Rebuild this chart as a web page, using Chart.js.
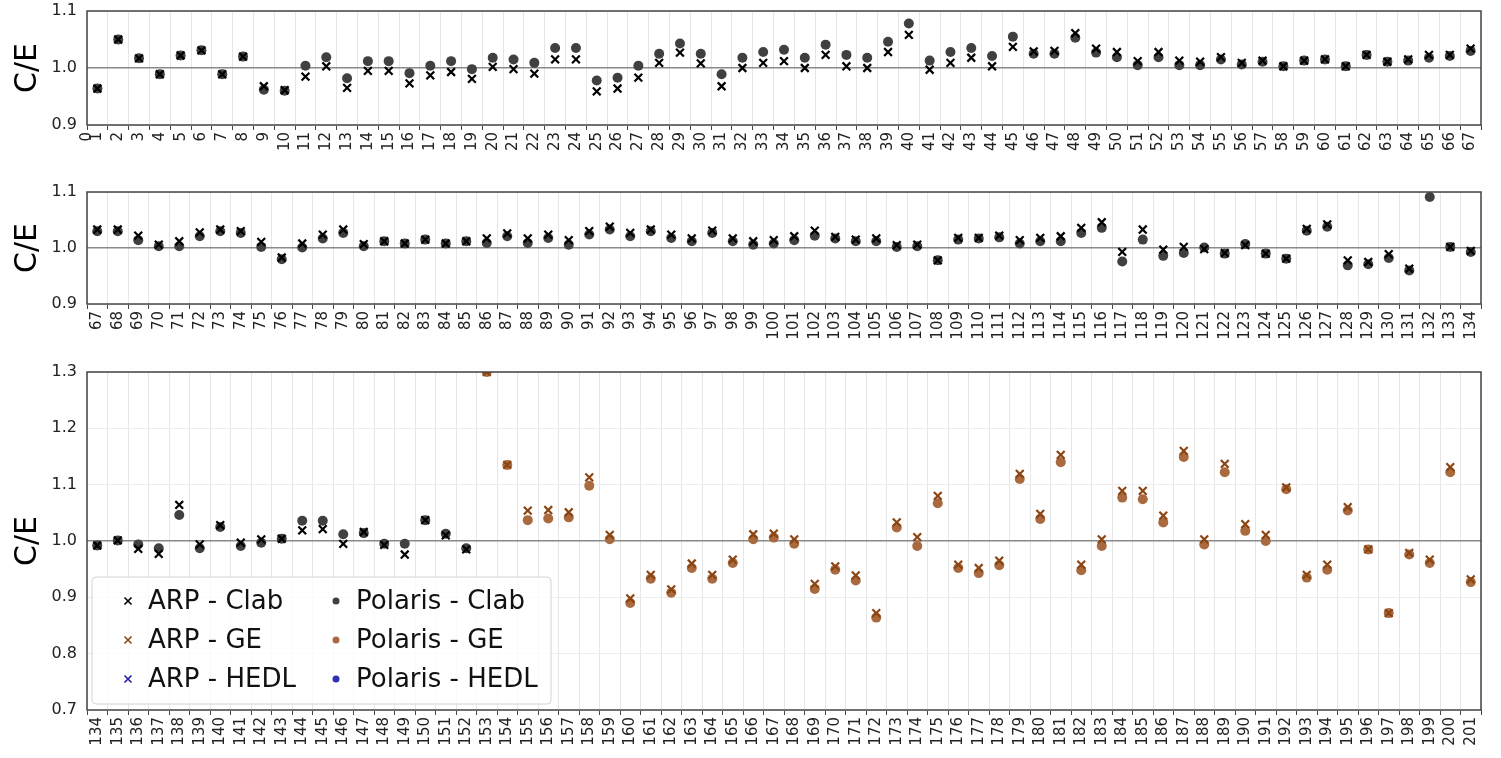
<!DOCTYPE html>
<html>
<head>
<meta charset="utf-8">
<script src="https://cdn.jsdelivr.net/npm/chart.js@4.4.1/dist/chart.umd.min.js"></script>
<style>
  body { margin: 0; background: #fff; width: 1501px; height: 758px; overflow: hidden; position: relative; }
  canvas { position: absolute; left: 0; }
</style>
</head>
<body>
<canvas id="panel1" width="1501" height="169" style="top:-9px"></canvas>
<canvas id="panel2" width="1501" height="185" style="top:165px"></canvas>
<canvas id="panel3" width="1501" height="406" style="top:352px"></canvas>
<script>
// C/E values, one entry per case number
// panel 1: cases 1..67
const arpClab1 = [0.964, 1.050, 1.017, 0.989, 1.022, 1.031, 0.989, 1.020, 0.968, 0.961,
  0.985, 1.003, 0.965, 0.995, 0.995, 0.973, 0.987, 0.993, 0.981, 1.002,
  0.998, 0.990, 1.015, 1.015, 0.959, 0.964, 0.983, 1.009, 1.027, 1.008,
  0.968, 1.000, 1.009, 1.012, 1.000, 1.023, 1.003, 1.000, 1.028, 1.058,
  0.997, 1.009, 1.018, 1.003, 1.037, 1.029, 1.030, 1.061, 1.034, 1.028,
  1.012, 1.028, 1.013, 1.011, 1.019, 1.009, 1.013, 1.003, 1.013, 1.015,
  1.003, 1.023, 1.011, 1.015, 1.023, 1.023, 1.034];
const polClab1 = [0.964, 1.050, 1.017, 0.989, 1.022, 1.031, 0.989, 1.020, 0.962, 0.960,
  1.004, 1.019, 0.982, 1.012, 1.012, 0.991, 1.004, 1.012, 0.998, 1.018,
  1.015, 1.009, 1.035, 1.035, 0.978, 0.983, 1.004, 1.025, 1.043, 1.025,
  0.989, 1.018, 1.028, 1.032, 1.018, 1.041, 1.023, 1.018, 1.046, 1.078,
  1.013, 1.028, 1.035, 1.021, 1.055, 1.025, 1.025, 1.053, 1.027, 1.019,
  1.005, 1.019, 1.005, 1.005, 1.015, 1.006, 1.011, 1.003, 1.013, 1.015,
  1.003, 1.023, 1.011, 1.013, 1.018, 1.021, 1.030];

// panel 2: cases 67..134
const arpClab2 = [1.033, 1.033, 1.022, 1.006, 1.012, 1.028, 1.033, 1.030, 1.011, 0.983,
  1.008, 1.024, 1.033, 1.007, 1.012, 1.008, 1.015, 1.008, 1.012, 1.017,
  1.026, 1.017, 1.024, 1.014, 1.030, 1.038, 1.027, 1.033, 1.024, 1.017,
  1.031, 1.017, 1.012, 1.014, 1.021, 1.031, 1.020, 1.015, 1.017, 1.005,
  1.006, 0.978, 1.018, 1.018, 1.022, 1.014, 1.018, 1.021, 1.036, 1.046,
  0.993, 1.033, 0.997, 1.002, 0.998, 0.991, 1.005, 0.990, 0.981, 1.034,
  1.042, 0.978, 0.975, 0.989, 0.963, null, 1.002, 0.995];
const polClab2 = [1.030, 1.030, 1.014, 1.003, 1.003, 1.021, 1.030, 1.027, 1.002, 0.980,
  1.001, 1.017, 1.027, 1.003, 1.012, 1.008, 1.015, 1.008, 1.012, 1.009,
  1.021, 1.009, 1.018, 1.006, 1.024, 1.033, 1.021, 1.030, 1.018, 1.012,
  1.027, 1.012, 1.006, 1.008, 1.014, 1.022, 1.017, 1.012, 1.012, 1.002,
  1.003, 0.978, 1.015, 1.017, 1.019, 1.008, 1.012, 1.012, 1.027, 1.036,
  0.976, 1.015, 0.986, 0.991, 1.001, 0.990, 1.007, 0.990, 0.981, 1.031,
  1.038, 0.969, 0.971, 0.982, 0.960, 1.091, 1.002, 0.993];

// panel 3: Clab cases 134..152, GE cases 153..201
const arpClab3 = [0.992, 1.001, 0.986, 0.977, 1.064, 0.994, 1.028, 0.997, 1.003, 1.004,
  1.019, 1.021, 0.995, 1.016, 0.993, 0.976, 1.037, 1.010, 0.985];
const polClab3 = [0.992, 1.001, 0.994, 0.987, 1.046, 0.987, 1.025, 0.991, 0.997, 1.004,
  1.036, 1.036, 1.012, 1.014, 0.995, 0.995, 1.037, 1.013, 0.987];
const arpGE3 = [1.300, 1.135, 1.054, 1.055, 1.051, 1.113, 1.011, 0.898, 0.940, 0.914,
  0.960, 0.940, 0.967, 1.012, 1.013, 1.003, 0.924, 0.955, 0.939, 0.872,
  1.033, 1.007, 1.080, 0.958, 0.952, 0.965, 1.119, 1.048, 1.153, 0.958,
  1.003, 1.089, 1.089, 1.045, 1.160, 1.003, 1.137, 1.030, 1.011, 1.095,
  0.940, 0.958, 1.060, 0.985, 0.872, 0.979, 0.967, 1.131, 0.932];
const polGE3 = [1.300, 1.135, 1.037, 1.040, 1.042, 1.098, 1.003, 0.890, 0.933, 0.908,
  0.952, 0.933, 0.961, 1.003, 1.006, 0.995, 0.915, 0.949, 0.930, 0.864,
  1.024, 0.991, 1.067, 0.952, 0.943, 0.957, 1.110, 1.039, 1.140, 0.948,
  0.991, 1.077, 1.074, 1.033, 1.149, 0.994, 1.122, 1.018, 1.000, 1.092,
  0.935, 0.949, 1.054, 0.985, 0.872, 0.976, 0.961, 1.122, 0.927];
const arpHEDL3 = [];
const polHEDL3 = [];

// y tick labels
const yTicksSmall = [0.9, 1.0, 1.1];
const yTicksBig = [0.7, 0.8, 0.9, 1.0, 1.1, 1.2, 1.3];

Chart.defaults.font.family = "'DejaVu Sans', sans-serif";
Chart.defaults.color = "#222";

const colors = {
  clabX: "#000000", clabDot: "#404040",
  geX: "#8b4513", geDot: "#a86a3e",
  hedlX: "#1c1ca8", hedlDot: "#3030b0",
};

function toPoints(first, values) {
  return values.map((v, i) => ({ x: first + i, y: v }));
}

function series(label, first, values, color, style) {
  const isDot = style === "circle";
  return {
    label,
    data: toPoints(first, values),
    pointStyle: style,
    pointRadius: isDot ? 5 : 5.5,
    pointBorderWidth: isDot ? 0 : 2.2,
    pointBackgroundColor: color,
    pointBorderColor: color,
    showLine: false,
  };
}

// box round the plot area
const frame = {
  id: "frame",
  afterDraw(chart) {
    const { ctx, chartArea: a } = chart;
    ctx.save();
    ctx.strokeStyle = "#444";
    ctx.lineWidth = 1.5;
    ctx.strokeRect(a.left, a.top, a.right - a.left, a.bottom - a.top);
    ctx.restore();
  },
};

// legend inside lower left of panel 3, two columns
const legendBox = {
  id: "legendBox",
  afterDraw(chart) {
    const { ctx, chartArea: a } = chart;
    const bx = a.left + 5, bw = 459, bh = 127;
    const by = a.bottom - 6 - bh;
    ctx.save();
    ctx.beginPath();
    ctx.roundRect(bx, by, bw, bh, 4);
    ctx.fillStyle = "rgba(255,255,255,0.8)";
    ctx.fill();
    ctx.strokeStyle = "#d4d4d4";
    ctx.lineWidth = 1;
    ctx.stroke();
    ctx.font = "26px 'DejaVu Sans', sans-serif";
    ctx.textBaseline = "middle";
    chart.data.datasets.forEach((ds, i) => {
      const col = i < 3 ? 0 : 1;
      const row = i % 3;
      const mx = bx + (col ? 244 : 36);
      const my = by + 24 + row * 39;
      if (ds.pointStyle === "circle") {
        ctx.beginPath();
        ctx.arc(mx, my, 3.5, 0, Math.PI * 2);
        ctx.fillStyle = ds.pointBackgroundColor;
        ctx.fill();
      } else {
        ctx.beginPath();
        ctx.moveTo(mx - 3.5, my - 3.5); ctx.lineTo(mx + 3.5, my + 3.5);
        ctx.moveTo(mx - 3.5, my + 3.5); ctx.lineTo(mx + 3.5, my - 3.5);
        ctx.strokeStyle = ds.pointBorderColor;
        ctx.lineWidth = 1.6;
        ctx.stroke();
      }
      ctx.fillStyle = "#111";
      ctx.fillText(ds.label, mx + 20, my + 1);
    });
    ctx.restore();
  },
};

const isHalf = (v) => !Number.isInteger(v);

function panel(id, first, last, yTicks, padTop, xHeight, datasets, extra, zeroLabel) {
  new Chart(document.getElementById(id), {
    type: "scatter",
    data: { datasets },
    options: {
      responsive: false,
      animation: false,
      layout: { padding: { top: padTop, right: 2, left: 0, bottom: 0 } },
      plugins: { legend: { display: false }, tooltip: { enabled: false } },
      scales: {
        x: {
          type: "linear",
          min: first - 0.5,
          max: last + 0.5,
          afterBuildTicks: (s) => {
            const t = [];
            for (let v = first - 0.5; v <= last + 0.5; v += 0.5) t.push({ value: v });
            s.ticks = t;
          },
          afterFit: (s) => { s.height = xHeight; },
          border: { display: false },
          grid: {
            color: (c) => (isHalf(c.tick.value) ? "#e6e6e6" : "rgba(0,0,0,0)"),
            tickColor: (c) => (isHalf(c.tick.value) ? "#444" : "rgba(0,0,0,0)"),
            tickLength: 5,
          },
          ticks: {
            autoSkip: false,
            minRotation: 90,
            maxRotation: 90,
            padding: 2,
            font: { size: 15 },
            color: "#222",
            callback: (v) => {
              if (Number.isInteger(v)) return String(v);
              if (zeroLabel && v === first - 0.5) return zeroLabel;
              return "";
            },
          },
        },
        y: {
          min: yTicks[0],
          max: yTicks[yTicks.length - 1],
          afterBuildTicks: (s) => { s.ticks = yTicks.map((v) => ({ value: v })); },
          afterFit: (s) => { s.width = 87; },
          border: { display: false },
          grid: {
            color: (c) => (Math.abs(c.tick.value - 1) < 1e-9 ? "#8a8a8a" : "#ececec"),
            lineWidth: (c) => (Math.abs(c.tick.value - 1) < 1e-9 ? 1.5 : 1),
            drawTicks: false,
          },
          ticks: {
            padding: 10,
            font: { size: 16 },
            color: "#222",
            callback: (v) => v.toFixed(1),
          },
          title: {
            display: true,
            text: "C/E",
            font: { size: 30 },
            color: "#000",
            padding: { top: 10, bottom: 0 },
          },
        },
      },
    },
    plugins: [frame, ...extra],
  });
}

panel("panel1", 1, 67, yTicksSmall, 20, 35, [
  series("ARP - Clab", 1, arpClab1, colors.clabX, "crossRot"),
  series("Polaris - Clab", 1, polClab1, colors.clabDot, "circle"),
], [], "0");

panel("panel2", 67, 134, yTicksSmall, 27, 46, [
  series("ARP - Clab", 67, arpClab2, colors.clabX, "crossRot"),
  series("Polaris - Clab", 67, polClab2, colors.clabDot, "circle"),
], []);

panel("panel3", 134, 201, yTicksBig, 20, 48, [
  series("ARP - Clab", 134, arpClab3, colors.clabX, "crossRot"),
  series("ARP - GE", 153, arpGE3, colors.geX, "crossRot"),
  series("ARP - HEDL", 153, arpHEDL3, colors.hedlX, "crossRot"),
  series("Polaris - Clab", 134, polClab3, colors.clabDot, "circle"),
  series("Polaris - GE", 153, polGE3, colors.geDot, "circle"),
  series("Polaris - HEDL", 153, polHEDL3, colors.hedlDot, "circle"),
], [legendBox]);
</script>
</body>
</html>
